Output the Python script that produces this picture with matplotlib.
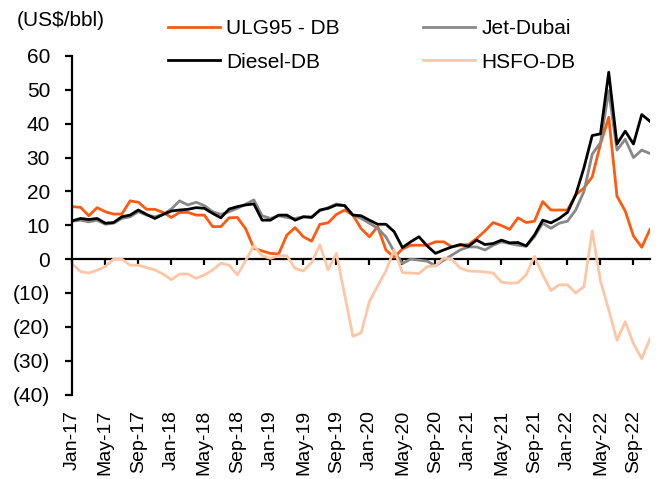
import matplotlib
matplotlib.use('Agg')
from matplotlib import pyplot as plt
import matplotlib.ticker as mticker

plt.rcParams['font.family'] = ['Liberation Sans', 'DejaVu Sans']
plt.rcParams['font.size'] = 15

# month labels, Jan-17 .. Nov-22 (one point per month)
tick_labels = ['Jan-17', 'May-17', 'Sep-17', 'Jan-18', 'May-18', 'Sep-18',
               'Jan-19', 'May-19', 'Sep-19', 'Jan-20', 'May-20', 'Sep-20',
               'Jan-21', 'May-21', 'Sep-21', 'Jan-22', 'May-22', 'Sep-22']

ulg95 = [15.5, 15.3, 12.8, 15.2, 14.0, 13.3, 13.3, 17.2, 16.8, 14.7,
         14.7, 13.8, 12.3, 13.8, 13.8, 13.0, 13.0, 9.6, 9.6, 12.2,
         12.3, 9.0, 3.2, 2.4, 1.7, 1.5, 7.1, 9.3, 6.6, 5.3,
         10.3, 10.7, 13.2, 14.5, 13.0, 9.0, 6.6, 9.6, 2.7, 0.5,
         3.0, 4.1, 4.1, 4.1, 5.1, 5.1, 3.6, 4.1, 4.3, 6.1,
         8.3, 10.8, 9.9, 8.8, 12.2, 10.8, 11.2, 17.0, 14.5, 14.5,
         14.5, 19.0, 21.0, 24.3, 34.0, 41.9, 18.6, 14.2, 6.8, 3.5, 8.8]

jet = [11.2, 11.5, 11.0, 11.5, 10.3, 10.6, 12.0, 12.5, 14.0, 13.0,
       12.5, 13.2, 14.8, 17.2, 16.0, 16.8, 15.8, 14.0, 13.2, 14.0,
       15.0, 16.2, 17.5, 12.8, 12.0, 12.8, 12.3, 12.0, 12.5, 12.5,
       14.3, 15.2, 16.3, 15.8, 13.0, 12.0, 10.6, 9.1, 6.6, 2.2,
       -1.3, 0.0, -0.3, -0.6, -2.0, -0.3, 1.2, 2.7, 3.6, 3.6,
       2.7, 4.1, 5.1, 4.6, 4.1, 3.8, 6.6, 10.6, 9.1, 10.6,
       11.2, 14.5, 20.0, 31.0, 34.4, 49.7, 32.2, 35.4, 30.0, 32.2, 31.2]

diesel = [11.3, 12.0, 11.7, 12.0, 10.6, 10.8, 12.5, 13.0, 14.5, 13.2,
          12.0, 13.2, 14.2, 14.5, 14.7, 15.2, 15.0, 13.5, 12.2, 14.8,
          15.5, 16.0, 16.3, 11.5, 11.5, 13.0, 13.0, 11.5, 12.5, 12.3,
          14.5, 15.0, 16.0, 15.8, 13.0, 12.8, 11.5, 10.3, 10.3, 8.1,
          3.4, 5.1, 6.6, 3.9, 1.7, 2.7, 3.6, 4.3, 3.8, 5.6,
          4.3, 4.6, 5.6, 4.8, 4.9, 3.9, 7.1, 11.5, 10.7, 12.0,
          13.8, 19.0, 27.0, 36.5, 37.0, 55.2, 34.0, 37.8, 34.0, 42.7, 40.7]

hsfo = [-1.5, -3.7, -4.1, -3.3, -2.2, 0.0, 0.0, -1.8, -1.8, -2.5,
        -3.2, -4.4, -6.1, -4.4, -4.4, -5.7, -4.7, -3.2, -1.2, -1.8,
        -4.7, -0.5, 4.0, 1.0, 0.2, 1.0, 1.0, -2.8, -3.5, -1.0,
        4.2, -3.2, 1.7, -10.5, -22.8, -21.8, -12.5, -7.9, -3.5, 2.8,
        -4.0, -4.1, -4.3, -2.2, -2.0, 0.3, 0.0, -2.7, -3.5, -3.6,
        -3.8, -4.1, -6.8, -7.1, -7.0, -4.6, 0.8, -4.6, -9.3, -7.6,
        -7.6, -10.0, -8.1, 8.3, -6.5, -15.0, -24.0, -18.5, -25.0, -29.4, -23.5]

months = list(range(len(ulg95)))
tick_pos = months[::4]

fig = plt.figure(figsize=(6.64, 4.79), dpi=100)
ax = fig.add_axes([0.1089, 0.1764, 0.870, 0.7067])

lw = 2.0
l1, = ax.plot(months, ulg95, color='#FF5A0F', lw=lw, label='ULG95 - DB')
l2, = ax.plot(months, jet, color='#888888', lw=lw, label='Jet-Dubai')
l3, = ax.plot(months, diesel, color='#000000', lw=lw, label='Diesel-DB')
l4, = ax.plot(months, hsfo, color='#FFC6A6', lw=lw, label='HSFO-DB')

ax.set_xlim(0, len(months) - 1)
ax.set_ylim(-40, 60)
ax.yaxis.set_major_locator(mticker.MultipleLocator(10))
ax.yaxis.set_major_formatter(mticker.FuncFormatter(
    lambda v, p: '(%d)' % abs(v) if v < 0 else '%d' % v))

for s in ['top', 'right']:
    ax.spines[s].set_visible(False)
ax.spines['left'].set_linewidth(1.6)
ax.spines['bottom'].set_position(('data', 0))
ax.spines['bottom'].set_linewidth(1.6)
ax.spines['bottom'].set_zorder(1)

ax.set_xticks(tick_pos)
ax.tick_params(axis='x', direction='out', length=4.5, width=1.6,
               labelbottom=False)
ax.tick_params(axis='y', direction='out', length=5, width=1.6, pad=11)

# month labels at the bottom of the plot, away from the zero line
sec = ax.secondary_xaxis(0.0)
sec.set_xticks(tick_pos, labels=tick_labels, rotation=90, va='top',
               fontsize=14)
sec.tick_params(length=0, pad=11)
sec.spines['bottom'].set_visible(False)

fig.text(17 / 664, 1 - 21 / 479, '(US$/bbl)', va='center', ha='left')

def put_legend(line, x, y):
    fig.legend(handles=[line], loc='center left',
               bbox_to_anchor=(x / 664, 1 - y / 479), frameon=False,
               borderpad=0, borderaxespad=0, handlelength=2.5,
               handletextpad=0.3)

put_legend(l1, 168, 29)
put_legend(l2, 423, 29)
put_legend(l3, 168, 62)
put_legend(l4, 423, 62)

fig.savefig('out.png', dpi=100)
